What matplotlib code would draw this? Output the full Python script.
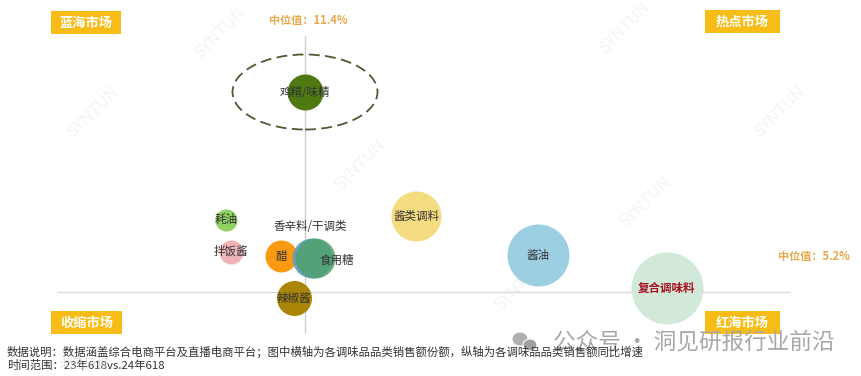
# -*- coding: utf-8 -*-
import matplotlib
matplotlib.use('Agg')
import matplotlib.pyplot as plt
from matplotlib.patches import Ellipse, Rectangle

plt.rcParams['font.family'] = ['Noto Sans CJK SC', 'DejaVu Sans']

W, H = 861, 376

# 品类数据：横轴为销售额份额(%)，纵轴为销售额同比增速(%)，读图估算
names = ['鸡精/味精', '耗油', '拌饭酱', '醋', '香辛料/干调类', '食用糖', '辣椒酱', '酱类调料', '酱油', '复合调味料']
share = [11.4, 7.45, 7.7, 10.2, 11.75, 11.9, 10.85, 16.95, 23.05, 29.5]
growth = [55.2, 23.2, 15.2, 14.2, 13.7, 13.7, 3.7, 24.2, 14.45, 6.2]
sizes = [672, 251, 299, 531, 829, 829, 635, 1296, 1993, 2687]
colors = ['#4f7a12', '#8fd163', '#f0b4b8', '#fb9a12', '#5f9dc0', '#4f9f6c', '#ab8508', '#f5dc80', '#9dcfe2', '#d2e8d8']
alphas = [1, 1, 1, 1, 0.9, 0.85, 1, 1, 1, 1]

median_x = 11.4
median_y = 5.2

# 标签位置（数据坐标）
label_xy = [(11.4, 55.0), (7.45, 23.4), (7.7, 15.4), (10.2, 14.0), (11.65, 21.7),
            (13.0, 13.2), (10.85, 3.7), (16.95, 24.0), (23.05, 14.2), (29.5, 6.0)]
label_colors = ['#333333'] * 9 + ['#a81020']

quadrants = ['蓝海市场', '热点市场', '收缩市场', '红海市场']
quad_boxes = [(51, 11, 70, 23), (705, 10, 75, 23), (51, 311, 71, 23), (705, 311, 75, 23)]

marks = [(220, 33), (93, 112), (360, 165), (780, 112), (645, 202), (520, 285), (625, 28)]


def fx(px):
    return px / W


def fy(py):
    return 1 - py / H


def main():
    fig = plt.figure(figsize=(W / 100, H / 100), dpi=100, facecolor='white')
    ax = fig.add_axes([0, 0, 1, 1])
    ax.set_xlim(-3.85, 39.2)
    ax.set_ylim(-15.8, 78.2)
    ax.axis('off')

    # 水印，压在气泡下面
    for mx, my in marks:
        fig.text(fx(mx), fy(my), 'SYNTUN', fontsize=12, color='#f4f4f4', rotation=45,
                 ha='center', va='center', zorder=-1)

    # 中位线
    ax.hlines(median_y, -1.0, 35.65, color='#dcdcdc', linewidth=1, zorder=1)
    ax.vlines(median_x, -5.05, 69.2, color='#cccccc', linewidth=1, zorder=1)

    for i in range(len(names)):
        ax.scatter(share[i], growth[i], s=sizes[i], color=colors[i], alpha=alphas[i],
                   zorder=2 + i * 0.01, linewidths=0)

    for name, (lx, ly), lc in zip(names, label_xy, label_colors):
        weight = 'bold' if name == '复合调味料' else 'normal'
        ax.text(lx, ly, name, fontsize=8.3, color=lc, ha='center', va='center', zorder=4, fontweight=weight)

    # 虚线圈
    ax.add_patch(Ellipse((median_x, 55.2), 145 / 20, 75 / 4, fill=False, edgecolor='#55552f',
                         linestyle=(0, (6, 3)), linewidth=1.3, zorder=3))

    # 中位值
    fig.text(fx(308), fy(20), '中位值：11.4%', fontsize=8, color='#eaa848', ha='center', va='center', fontweight='bold')
    fig.text(fx(814), fy(256), '中位值：5.2%', fontsize=8, color='#eaa848', ha='center', va='center', fontweight='bold')

    # 象限标签
    for q, (bx, by, bw, bh) in zip(quadrants, quad_boxes):
        fig.add_artist(Rectangle((fx(bx), fy(by + bh)), bw / W, bh / H, transform=fig.transFigure,
                                 facecolor='#f7bc16', edgecolor='none', zorder=5))
        fig.text(fx(bx + bw / 2), fy(by + bh / 2), q, fontsize=9.5, color='white', fontweight='bold',
                 ha='center', va='center', zorder=6)

    # 公众号水印
    fig.text(fx(694), fy(342), '公众号 · 洞见研报行业前沿', fontsize=16.3, color='#a8a8a8',
             ha='center', va='center', zorder=7)
    fig.add_artist(Ellipse((fx(520), fy(339)), 15 / W, 13 / H, transform=fig.transFigure,
                           facecolor='#b0b0b0', edgecolor='none', zorder=7))
    fig.add_artist(Ellipse((fx(530), fy(345)), 14 / W, 12 / H, transform=fig.transFigure,
                           facecolor='#a0a0a0', edgecolor='white', linewidth=0.8, zorder=7))

    # 说明
    fig.text(fx(7), fy(352), '数据说明：数据涵盖综合电商平台及直播电商平台；图中横轴为各调味品品类销售额份额，纵轴为各调味品品类销售额同比增速',
             fontsize=8.2, color='#333333', ha='left', va='center', zorder=8)
    fig.text(fx(7), fy(365), '时间范围：23年618vs.24年618', fontsize=8.2, color='#333333', ha='left', va='center', zorder=8)
    fig.text(fx(60), fy(364), '洞见研报', fontsize=9, color='#d0d0d0', ha='left', va='center', alpha=0.6, zorder=8)

    fig.savefig('out.png', dpi=100, facecolor='white')


if __name__ == "__main__":
    main()
